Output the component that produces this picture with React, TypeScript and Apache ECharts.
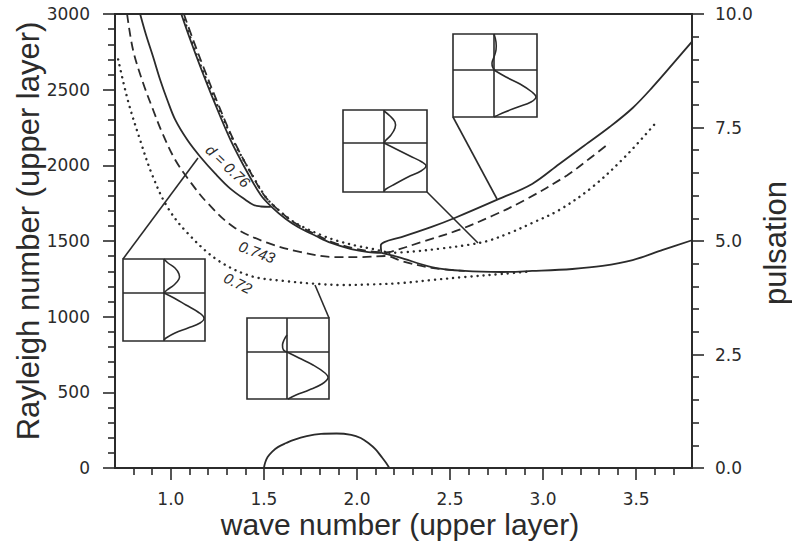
import { useEffect, useRef } from "react";
import * as echarts from "echarts";

// ---- data: neutral curves Ra(k) for three layer ratios d ----
// d = 0.76 (solid)
const solidLeftBranch: [number, number][] = [
  [0.835, 3000], [0.867, 2861], [0.905, 2716], [0.943, 2564], [0.981, 2432],
  [1.024, 2300], [1.089, 2167], [1.159, 2055], [1.24, 1943], [1.321, 1844],
  [1.402, 1771], [1.445, 1738], [1.483, 1728], [1.537, 1725],
];
const solidRightBranch: [number, number][] = [
  [1.056, 3000], [1.105, 2828], [1.159, 2650], [1.229, 2432], [1.321, 2167],
  [1.413, 1949], [1.483, 1804], [1.537, 1731], [1.618, 1645], [1.683, 1593],
  [1.78, 1533], [1.861, 1487], [1.969, 1447], [2.061, 1427], [2.131, 1421],
];
const solidLowerBranch: [number, number][] = [
  [2.131, 1421], [2.223, 1394], [2.401, 1328], [2.579, 1302], [2.779, 1295],
  [2.941, 1302], [3.157, 1315], [3.319, 1335], [3.481, 1374], [3.643, 1441],
  [3.8, 1505],
];
const solidUpperBranch: [number, number][] = [
  [2.131, 1421], [2.128, 1470], [2.147, 1493], [2.239, 1526], [2.401, 1593],
  [2.525, 1652], [2.763, 1778], [2.941, 1877], [3.087, 2009], [3.211, 2121],
  [3.357, 2253], [3.481, 2379], [3.589, 2518], [3.697, 2670], [3.8, 2818],
];
// d = 0.743 (dashed)
const dashedLeftBranch: [number, number][] = [
  [0.765, 3000], [0.797, 2762], [0.851, 2544], [0.905, 2366], [0.954, 2214],
  [1.024, 2035], [1.105, 1890], [1.197, 1751], [1.337, 1593], [1.521, 1487],
  [1.699, 1427], [1.877, 1394], [2.023, 1394], [2.158, 1401], [2.239, 1368],
  [2.401, 1322], [2.579, 1302],
];
const dashedRightBranch: [number, number][] = [
  [1.07, 3000], [1.12, 2828], [1.175, 2650], [1.245, 2432], [1.337, 2167],
  [1.43, 1949], [1.5, 1804], [1.555, 1731], [1.636, 1645], [1.7, 1593],
  [1.795, 1533], [1.874, 1490], [1.98, 1452], [2.07, 1432], [2.15, 1424],
];
const dashedUpperBranch: [number, number][] = [
  [2.15, 1424], [2.185, 1430], [2.347, 1493], [2.547, 1573], [2.725, 1665],
  [2.903, 1771], [3.13, 1935], [3.25, 2045], [3.357, 2148],
];
// d = 0.72 (dotted)
const dottedLeftBranch: [number, number][] = [
  [0.717, 2700], [0.77, 2425], [0.835, 2167], [0.9, 1936], [0.981, 1725],
  [1.089, 1553], [1.251, 1374], [1.429, 1269], [1.607, 1236], [1.791, 1216],
  [1.915, 1209], [2.077, 1213], [2.239, 1222], [2.401, 1242], [2.579, 1262],
  [2.779, 1282], [2.941, 1300],
];
const dottedRightBranch: [number, number][] = [
  [1.062, 3000], [1.115, 2810], [1.17, 2630], [1.245, 2410], [1.345, 2140],
  [1.44, 1930], [1.51, 1790], [1.565, 1720], [1.65, 1635], [1.715, 1590],
  [1.81, 1538], [1.89, 1503], [2.0, 1468], [2.09, 1446], [2.174, 1421],
];
const dottedUpperBranch: [number, number][] = [
  [2.174, 1421], [2.3, 1430], [2.45, 1450], [2.6, 1475], [2.7, 1500],
  [2.82, 1553], [2.941, 1619], [3.087, 1705], [3.265, 1857], [3.443, 2060],
  [3.605, 2280],
];
// pulsation of the oscillatory mode (right axis)
const pulsation: [number, number][] = [
  [1.5, 0], [1.507, 0.12], [1.52, 0.24], [1.545, 0.36], [1.575, 0.46],
  [1.62, 0.55], [1.661, 0.62], [1.73, 0.7], [1.807, 0.75], [1.89, 0.76],
  [1.969, 0.73], [2.02, 0.66], [2.061, 0.55], [2.1, 0.41], [2.131, 0.25],
  [2.155, 0.12], [2.174, 0],
];

// ---- ticks ----
const xMajorTicks = [1.0, 1.5, 2.0, 2.5, 3.0, 3.5];
const xMinorTicks = [
  0.8, 0.9, 1.1, 1.2, 1.3, 1.4, 1.6, 1.7, 1.8, 1.9, 2.1, 2.2, 2.3, 2.4,
  2.6, 2.7, 2.8, 2.9, 3.1, 3.2, 3.3, 3.4, 3.6, 3.7,
];

// ---- styling ----
const INK = "#2b2b2b";
const SANS = "'Liberation Sans', Arial, sans-serif";
const TICK_FONT = "'DejaVu Sans', sans-serif";

type Pt = [number, number];
type Inset = {
  box: [number, number, number, number];
  hy: number;
  vx: number;
  upper: Pt[];
  lower: Pt[];
  leader: [Pt, Pt];
};

// sketches of the vertical-velocity profiles in both layers
const insets: Inset[] = [
  {
    box: [123, 259, 82, 82], hy: 293, vx: 164,
    upper: [[164, 259], [168, 263], [175, 268], [179, 274], [179, 279], [174, 285], [167, 290], [164, 293]],
    lower: [[164, 293], [174, 298], [186, 305], [198, 312], [204, 318], [200, 323], [188, 328], [175, 333], [166, 338], [164, 340]],
    leader: [[123, 259], [198, 158]],
  },
  {
    box: [247, 318, 82, 81], hy: 352, vx: 287,
    upper: [[287, 335], [284, 340], [282.5, 345], [283.5, 350], [287, 352]],
    lower: [[287, 352], [299, 358], [313, 365], [325, 373], [328, 378], [322, 384], [309, 390], [296, 395], [288, 399]],
    leader: [[329, 318], [315, 285]],
  },
  {
    box: [343, 110, 84, 82], hy: 143, vx: 384,
    upper: [[384, 111], [390, 116], [395, 122], [395, 128], [391, 135], [386, 140], [384, 143]],
    lower: [[384, 143], [396, 149], [410, 156], [422, 162], [426, 166], [421, 171], [408, 177], [395, 184], [386, 189], [384, 191]],
    leader: [[427, 192], [478, 243]],
  },
  {
    box: [453, 34, 84, 83], hy: 70, vx: 494,
    upper: [[494, 34], [496, 42], [496, 50], [494, 57], [492, 63], [493, 68], [495, 70]],
    lower: [[494, 70], [506, 77], [520, 84], [532, 92], [536, 97], [531, 102], [518, 107], [505, 112], [496, 116], [494, 117]],
    leader: [[453, 117], [497, 199]],
  },
];

function insetElements(s: Inset) {
  const [x, y, w, h] = s.box;
  const stroke = { stroke: INK, lineWidth: 1.6, fill: null as any };
  return [
    { type: "line", shape: { x1: s.leader[0][0], y1: s.leader[0][1], x2: s.leader[1][0], y2: s.leader[1][1] }, style: stroke, z: 100 },
    { type: "rect", shape: { x, y, width: w, height: h }, style: { ...stroke, fill: "#fff" }, z: 100 },
    { type: "line", shape: { x1: x, y1: s.hy, x2: x + w, y2: s.hy }, style: stroke, z: 101 },
    { type: "line", shape: { x1: s.vx, y1: y, x2: s.vx, y2: y + h }, style: stroke, z: 101 },
    { type: "polyline", shape: { points: s.upper, smooth: 0.4 }, style: stroke, z: 101 },
    { type: "polyline", shape: { points: s.lower, smooth: 0.4 }, style: stroke, z: 101 },
  ];
}

const SOLID = { type: "solid" as const, width: 1.8 };
const DASHED = { type: [9, 5], width: 1.8 };
const DOTTED = { type: [0.1, 6], width: 2.4, cap: "round" as const };

function curve(data: Pt[], style: any, yAxisIndex = 0) {
  return {
    type: "line",
    data,
    yAxisIndex,
    showSymbol: false,
    symbol: "none",
    smooth: 0.35,
    silent: true,
    lineStyle: { color: INK, ...style },
  };
}

export default function App() {
  const ref = useRef<HTMLDivElement>(null);

  useEffect(() => {
    document.body.style.margin = "0";
    const chart = echarts.init(ref.current!, null, { renderer: "svg" });
    const axisLine = { show: true, onZero: false, lineStyle: { color: INK, width: 2 } };
    const tickLine = { color: INK, width: 1.6 };
    const tickLabel = { color: INK, fontFamily: TICK_FONT, fontSize: 17 };

    chart.setOption({
      animation: false,
      backgroundColor: "#fff",
      grid: { left: 115, right: 100, top: 14, bottom: 78, show: true, borderColor: INK, borderWidth: 2 },
      xAxis: [
        {
          type: "value", min: 0.7, max: 3.8, position: "bottom",
          axisLine,
          axisTick: { show: true, inside: false, length: 12, customValues: xMajorTicks, lineStyle: tickLine },
          axisLabel: { ...tickLabel, margin: 22, customValues: xMajorTicks, formatter: (v: number) => v.toFixed(1) },
          splitLine: { show: false },
        },
        {
          type: "value", min: 0.7, max: 3.8, position: "bottom",
          axisLine: { show: false },
          axisTick: { show: true, inside: false, length: 7, customValues: xMinorTicks, lineStyle: tickLine },
          axisLabel: { show: false },
          splitLine: { show: false },
        },
      ],
      yAxis: [
        {
          type: "value", min: 0, max: 3000, interval: 500, position: "left",
          axisLine,
          axisTick: { show: true, inside: false, length: 12, lineStyle: tickLine },
          minorTick: { show: true, splitNumber: 5, length: 7, lineStyle: tickLine },
          axisLabel: { ...tickLabel, margin: 25, formatter: (v: number) => String(v) },
          splitLine: { show: false },
          minorSplitLine: { show: false },
        },
        {
          type: "value", min: 0, max: 10, interval: 2.5, position: "right",
          axisLine,
          axisTick: { show: true, inside: false, length: 12, lineStyle: tickLine },
          minorTick: { show: true, splitNumber: 5, length: 7, lineStyle: tickLine },
          axisLabel: { ...tickLabel, margin: 23, formatter: (v: number) => v.toFixed(1) },
          splitLine: { show: false },
          minorSplitLine: { show: false },
        },
      ],
      series: [
        curve(solidLeftBranch, SOLID),
        curve(solidRightBranch, SOLID),
        curve(solidLowerBranch, SOLID),
        curve(solidUpperBranch, SOLID),
        curve(dashedLeftBranch, DASHED),
        curve(dashedRightBranch, DASHED),
        curve(dashedUpperBranch, DASHED),
        curve(dottedLeftBranch, DOTTED),
        curve(dottedRightBranch, DOTTED),
        curve(dottedUpperBranch, DOTTED),
        curve(pulsation, SOLID, 1),
      ],
      graphic: [
        ...insets.flatMap(insetElements),
        {
          type: "text", x: 228, y: 166, rotation: -0.76, z: 110,
          style: { text: "d = 0.76", font: `italic 15px ${SANS}`, fill: INK, align: "center", verticalAlign: "middle" },
        },
        {
          type: "text", x: 257, y: 252, rotation: -0.36, z: 110,
          style: { text: "0.743", font: `italic 15px ${SANS}`, fill: INK, align: "center", verticalAlign: "middle" },
        },
        {
          type: "text", x: 238, y: 283, rotation: -0.46, z: 110,
          style: { text: "0.72", font: `italic 15px ${SANS}`, fill: INK, align: "center", verticalAlign: "middle" },
        },
        {
          type: "text", x: 400, y: 524, z: 110,
          style: { text: "wave number (upper layer)", font: `30px ${SANS}`, fill: INK, align: "center", verticalAlign: "middle" },
        },
        {
          type: "text", x: 28, y: 231, rotation: Math.PI / 2, z: 110,
          style: { text: "Rayleigh number (upper layer)", font: `31px ${SANS}`, fill: INK, align: "center", verticalAlign: "middle" },
        },
        {
          type: "text", x: 775, y: 243, rotation: Math.PI / 2, z: 110,
          style: { text: "pulsation", font: `31px ${SANS}`, fill: INK, align: "center", verticalAlign: "middle" },
        },
      ],
    });
    return () => chart.dispose();
  }, []);

  return <div ref={ref} style={{ width: 792, height: 546 }} />;
}
